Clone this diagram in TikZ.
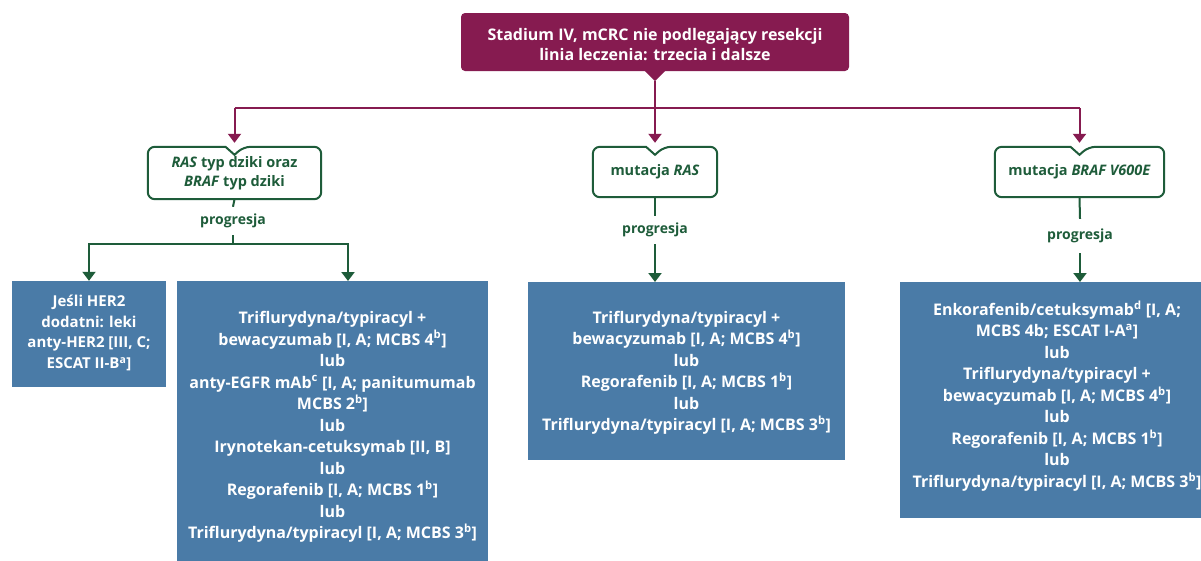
\documentclass[tikz,border=0pt]{standalone}
\usepackage{fontspec}
\setmainfont{Open Sans}
\usetikzlibrary{arrows.meta,calc}
\definecolor{maroonc}{RGB}{134,27,80}
\definecolor{dgreen}{RGB}{30,92,58}
\definecolor{sblue}{RGB}{74,123,167}
\newcommand\notchframe[1]{%
  \draw[gframe] ($(#1.north)+(-9pt,0)$) [rounded corners=7pt] -- (#1.north west) -- (#1.south west) -- (#1.south east) -- (#1.north east) -- ($(#1.north)+(9pt,0)$) [sharp corners] -- ($(#1.north)+(0,-8pt)$) -- cycle;}
\tikzset{
  topbox/.style={fill=maroonc, rounded corners=4pt},
  toptext/.style={text=white, align=center, font=\bfseries\fontsize{16}{20}\selectfont},
  gbox/.style={text=dgreen, align=center, font=\bfseries\fontsize{14.5}{19}\selectfont},
  gframe/.style={draw=dgreen, line width=2pt},
  prog/.style={text=dgreen, font=\bfseries\fontsize{14}{15}\selectfont, minimum height=28pt, inner sep=0pt},
  mline/.style={draw=maroonc, line width=2pt},
  marr/.style={mline, -{Triangle[width=13pt,length=9pt]}},
  gline/.style={draw=dgreen, line width=2pt},
  garr/.style={gline, -{Triangle[width=13pt,length=9pt]}},
  bbox/.style={fill=sblue, inner sep=0pt},
  btext/.style={text=white, align=center, font=\bfseries\fontsize{16}{21.5}\selectfont},
}
\begin{document}
\begin{tikzpicture}[x=1pt,y=-1pt]
\useasboundingbox (0,0) rectangle (1201,560);
\fill[white] (0,0) rectangle (1201,560);
% top
\node[topbox, minimum width=388pt, minimum height=58pt] (top) at (655,42) {};
\node[toptext] (toptxt) at (655,45) {Stadium IV, mCRC nie podlegający resekcji\\linia leczenia: trzecia i dalsze};
\fill[maroonc] ($(top.south)+(-11pt,1pt)$) -- ($(top.south)+(11pt,1pt)$) -- ($(top.south)+(0,-10pt)$) -- cycle;
\coordinate (ptip) at ($(top.south)+(0,-10pt)$);
\coordinate (hub) at (655,108);
% green nodes
\node[gbox, minimum width=173pt, minimum height=52pt] (g1) at (234.5,173) {\textit{RAS} typ dziki oraz\\\textit{BRAF} typ dziki};
\node[gbox, minimum width=124pt, minimum height=50pt] (g2) at (655,172) {mutacja \textit{RAS}};
\node[gbox, minimum width=169pt, minimum height=50pt] (g3) at (1079.5,172) {mutacja \textit{BRAF V600E}};
\notchframe{g1}
\notchframe{g2}
\notchframe{g3}
% maroon connectors
\draw[mline] (ptip) -- (hub);
\draw[mline] (g1.north |- hub) -- (g3.north |- hub);
\draw[marr] (g1.north |- hub) -- ($(g1.north)+(0,4pt)$);
\draw[marr] (hub) -- ($(g2.north)+(0,4pt)$);
\draw[marr] (g3.north |- hub) -- ($(g3.north)+(0,4pt)$);
% progresja
\node[prog] (p1) at (233,221) {progresja};
\node[prog] (p2) at (655,230) {progresja};
\node[prog, minimum height=34pt] (p3) at (1080,236) {progresja};
% blue boxes
\node[bbox, minimum width=154pt, minimum height=106pt] (b1) at (89,334) {};
\node[bbox, minimum width=311pt, minimum height=282pt] (b2) at (332.5,422) {};
\node[bbox, minimum width=317pt, minimum height=178pt] (b3) at (686.5,371) {};
\node[bbox, minimum width=305pt, minimum height=236pt] (b4) at (1052.5,400) {};
\coordinate (b2in) at (348,281);
\coordinate (b3in) at (655,282);
\coordinate (b4in) at (1080,282);
% green connectors
\draw[gline] (g1.south) -- (p1.north);
\coordinate (j1) at (233,244);
\draw[gline] (p1.south) -- (j1);
\draw[garr] (j1) -| (b1.north);
\draw[garr] (j1) -| (b2in);
\draw[gline] (g2.south) -- (p2.north);
\draw[garr] (p2.south) -- (b3in);
\draw[gline] (g3.south) -- (p3.north);
\draw[garr] (p3.south) -- (b4in);
% blue texts
\node[btext, font=\bfseries\fontsize{15}{20.5}\selectfont] (b1t) at (89,333) {Jeśli HER2\\dodatni: leki\\anty-HER2 [III, C;\\ESCAT II-B\textsuperscript{a}]};
\node[btext] (b2t) at (332.5,427) {Triflurydyna/typiracyl +\\bewacyzumab [I, A; MCBS 4\textsuperscript{b}]\\lub\\anty-EGFR mAb\textsuperscript{c} [I, A; panitumumab\\MCBS 2\textsuperscript{b}]\\lub\\Irynotekan-cetuksymab [II, B]\\lub\\Regorafenib [I, A; MCBS 1\textsuperscript{b}]\\lub\\Triflurydyna/typiracyl [I, A; MCBS 3\textsuperscript{b}]};
\node[btext] (b3t) at (686.5,373) {Triflurydyna/typiracyl +\\bewacyzumab [I, A; MCBS 4\textsuperscript{b}]\\lub\\Regorafenib [I, A; MCBS 1\textsuperscript{b}]\\lub\\Triflurydyna/typiracyl [I, A; MCBS 3\textsuperscript{b}]};
\node[btext] (b4t) at (1057,396) {Enkorafenib/cetuksymab\textsuperscript{d} [I, A;\\MCBS 4b; ESCAT I-A\textsuperscript{a}]\\lub\\Triflurydyna/typiracyl +\\bewacyzumab [I, A; MCBS 4\textsuperscript{b}]\\lub\\Regorafenib [I, A; MCBS 1\textsuperscript{b}]\\lub\\Triflurydyna/typiracyl [I, A; MCBS 3\textsuperscript{b}]};
\end{tikzpicture}
\end{document}
